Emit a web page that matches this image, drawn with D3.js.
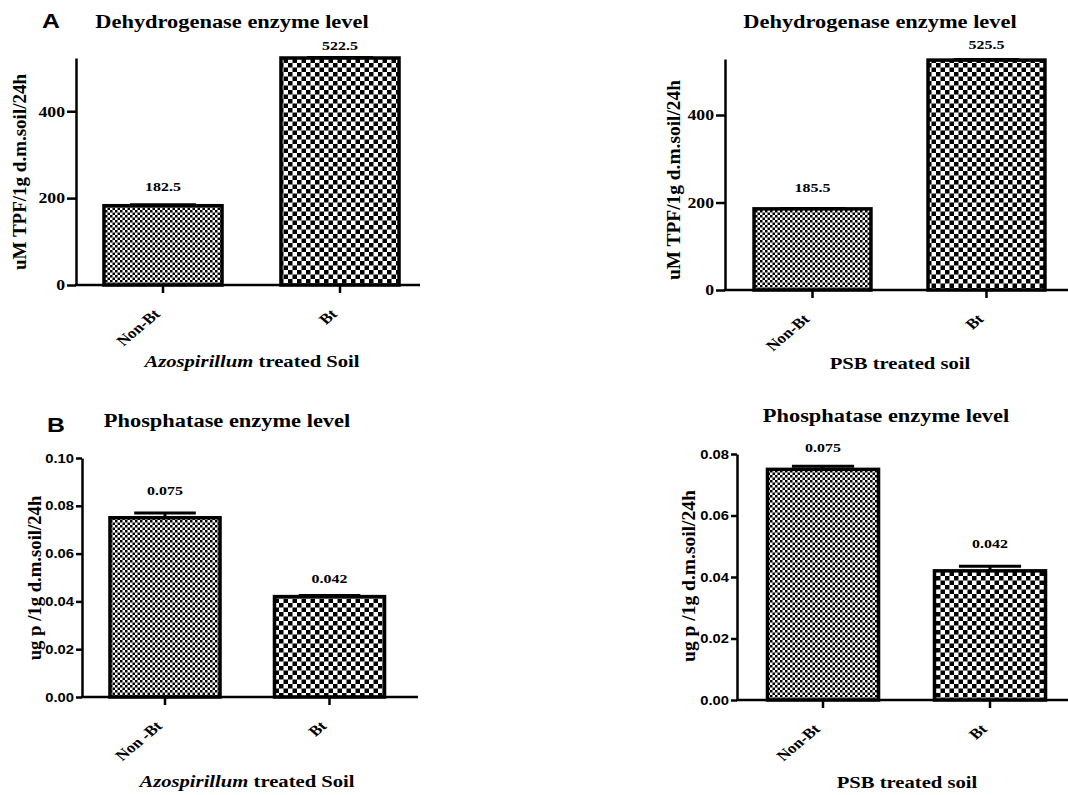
<!DOCTYPE html>
<html>
<head>
<meta charset="utf-8">
<script src="https://cdn.jsdelivr.net/npm/d3@7"></script>
<style>
  body { margin: 0; background: #fff; }
  svg { display: block; }
  .serif { font-family: "Liberation Serif", "Times New Roman", serif; font-weight: bold; }
  .sans { font-family: "Liberation Sans", Arial, sans-serif; font-weight: bold; }
</style>
</head>
<body>
<div id="chart"></div>
<script>
// Data.
const groupsA = ['Non-Bt', 'Bt'];
const groupsB = ['Non -Bt', 'Bt'];
const groupsBpsb = ['Non-Bt', 'Bt'];

const dehydAzo = [182.5, 522.5];
const dehydAzoErr = [2.5, 1];
const dehydPsb = [185.5, 525.5];
const dehydPsbErr = [1, 1.5];

const phosAzo = [0.075, 0.042];
const phosAzoErr = [0.002, 0.0005];
const phosPsb = [0.075, 0.042];
const phosPsbErr = [0.001, 0.0015];

const dehydTicks = [0, 200, 400];
const phosAzoTicks = [0, 0.02, 0.04, 0.06, 0.08, 0.10];
const phosPsbTicks = [0, 0.02, 0.04, 0.06, 0.08];

const dehydTitle = 'Dehydrogenase enzyme level';
const phosTitle = 'Phosphatase enzyme level';
const dehydYLabel = 'uM TPF/1g d.m.soil/24h';
const phosYLabel = 'ug p /1g d.m.soil/24h';

// The original figure is stretched sideways; text gets the same stretch.
const SX = 1.18;

const svg = d3.select('#chart')
  .append('svg')
  .attr('width', 1068)
  .attr('height', 795);

// Checker patterns: fine for Non-Bt, coarse for Bt.
const defs = svg.append('defs');
function checker(id, s) {
  const p = defs.append('pattern')
    .attr('id', id)
    .attr('patternUnits', 'userSpaceOnUse')
    .attr('width', 2 * s)
    .attr('height', 2 * s);
  p.append('rect').attr('width', 2 * s).attr('height', 2 * s).attr('fill', '#fff');
  p.append('rect').attr('width', s).attr('height', s).attr('fill', '#000');
  p.append('rect').attr('x', s).attr('y', s).attr('width', s).attr('height', s).attr('fill', '#000');
}
checker('fine', 2.5);
checker('coarse', 4.5);

// Panel layout.
const panels = [
  {
    letter: 'A', letterX: 42, letterY: 28,
    title: dehydTitle, titleX: 232, titleY: 28,
    groups: groupsA, values: dehydAzo, errs: dehydAzoErr, labels: ['182.5', '522.5'], labelGap: [14, 8],
    ticks: dehydTicks, tickFmt: d3.format('d'), tickClass: 'serif', tickSize: 15, tickLen: 9,
    yMax: 522.5, y0: 285, yTop: 58,
    axisX: 76, xEnd: 420, band: [74.5, 428.5], pad: 0.333,
    yLabel: dehydYLabel, yLabelX: 19, yLabelY: 172, yLabelSize: 19,
    xTitle: ['Azospirillum', ' treated Soil'], xTitleX: 252, xTitleY: 367
  },
  {
    title: dehydTitle, titleX: 880, titleY: 28,
    groups: groupsA, values: dehydPsb, errs: dehydPsbErr, labels: ['185.5', '525.5'], labelGap: [16, 10],
    ticks: dehydTicks, tickFmt: d3.format('d'), tickClass: 'serif', tickSize: 15, tickLen: 9,
    yMax: 528, y0: 290, yTop: 59,
    axisX: 725, xEnd: 1068, band: [725.5, 1073.5], pad: 0.328,
    yLabel: dehydYLabel, yLabelX: 673, yLabelY: 180, yLabelSize: 19.4,
    xTitle: [null, 'PSB treated soil'], xTitleX: 900, xTitleY: 369
  },
  {
    letter: 'B', letterX: 47, letterY: 432,
    title: phosTitle, titleX: 227, titleY: 427,
    groups: groupsB, values: phosAzo, errs: phosAzoErr, labels: ['0.075', '0.042'], labelGap: [18, 12],
    ticks: phosAzoTicks, tickFmt: d3.format('.2f'), tickClass: 'sans', tickSize: 12.5, tickLen: 6,
    yMax: 0.10, y0: 697, yTop: 458,
    axisX: 82, xEnd: 418, band: [82.75, 411.75], pad: 0.331,
    yLabel: phosYLabel, yLabelX: 34, yLabelY: 578, yLabelSize: 18.7,
    xTitle: ['Azospirillum', ' treated Soil'], xTitleX: 247, xTitleY: 787
  },
  {
    title: phosTitle, titleX: 886, titleY: 422,
    groups: groupsBpsb, values: phosPsb, errs: phosPsbErr, labels: ['0.075', '0.042'], labelGap: [14, 18],
    ticks: phosPsbTicks, tickFmt: d3.format('.2f'), tickClass: 'sans', tickSize: 12.5, tickLen: 6,
    yMax: 0.08, y0: 700, yTop: 454,
    axisX: 737, xEnd: 1068, band: [739.5, 1073.5], pad: 0.335,
    yLabel: phosYLabel, yLabelX: 688, yLabelY: 576, yLabelSize: 19.5,
    xTitle: [null, 'PSB treated soil'], xTitleX: 907, xTitleY: 788
  }
];

panels.forEach(drawPanel);

function stretched(x, y) {
  return `translate(${x},${y}) scale(${SX},1)`;
}

function drawPanel(p) {
  const g = svg.append('g');

  const xScale = d3.scaleBand()
    .domain(p.groups)
    .range(p.band)
    .paddingInner(p.pad)
    .paddingOuter(p.pad / 2);

  const yScale = d3.scaleLinear()
    .domain([0, p.yMax])
    .range([p.y0, p.yTop]);

  const rows = p.groups.map((name, i) => ({
    name: name, value: p.values[i], err: p.errs[i], label: p.labels[i], gap: p.labelGap[i],
    fill: i === 0 ? 'url(#fine)' : 'url(#coarse)'
  }));

  // Panel letter.
  if (p.letter) {
    g.append('text')
      .attr('class', 'sans')
      .attr('transform', stretched(p.letterX, p.letterY))
      .style('font-size', '21px')
      .text(p.letter);
  }

  // Title.
  g.append('text')
    .attr('class', 'serif')
    .attr('transform', stretched(p.titleX, p.titleY))
    .attr('text-anchor', 'middle')
    .style('font-size', '19px')
    .text(p.title);

  // Error bars (drawn first so bar outline sits on top).
  const eb = g.append('g');
  rows.forEach(d => {
    const cx = xScale(d.name) + xScale.bandwidth() / 2;
    const half = xScale.bandwidth() * 0.28;
    eb.append('line')
      .attr('x1', cx).attr('x2', cx)
      .attr('y1', yScale(d.value)).attr('y2', yScale(d.value + d.err))
      .attr('stroke', '#000').attr('stroke-width', 3);
    eb.append('line')
      .attr('x1', cx - half).attr('x2', cx + half)
      .attr('y1', yScale(d.value + d.err)).attr('y2', yScale(d.value + d.err))
      .attr('stroke', '#000').attr('stroke-width', 3);
  });

  // Bars.
  g.selectAll('.bar')
    .data(rows)
    .enter()
    .append('rect')
    .attr('class', 'bar')
    .attr('x', d => xScale(d.name))
    .attr('y', d => yScale(d.value))
    .attr('width', xScale.bandwidth())
    .attr('height', d => yScale(0) - yScale(d.value))
    .attr('fill', d => d.fill)
    .attr('stroke', '#000')
    .attr('stroke-width', 3.5);

  // Value labels.
  g.selectAll('.val')
    .data(rows)
    .enter()
    .append('text')
    .attr('class', 'serif')
    .attr('transform', d => stretched(xScale(d.name) + xScale.bandwidth() / 2, yScale(d.value + d.err) - d.gap))
    .attr('text-anchor', 'middle')
    .style('font-size', '13.5px')
    .text(d => d.label);

  // Y axis.
  const yAxis = d3.axisLeft(yScale)
    .tickValues(p.ticks)
    .tickFormat(p.tickFmt)
    .tickSizeInner(p.tickLen)
    .tickSizeOuter(0);

  const yAxisDraw = g.append('g')
    .attr('transform', `translate(${p.axisX},0)`)
    .call(yAxis);
  yAxisDraw.select('.domain').attr('stroke-width', 2.5);
  yAxisDraw.selectAll('.tick line').attr('stroke-width', 2.5);
  yAxisDraw.selectAll('.tick text')
    .attr('class', p.tickClass)
    .style('font-size', p.tickSize + 'px')
    .attr('fill', '#000')
    .attr('x', -(p.tickLen + 2) / SX)
    .attr('transform', `scale(${SX},1)`);

  // X axis.
  g.append('line')
    .attr('x1', p.axisX - 1).attr('x2', p.xEnd)
    .attr('y1', p.y0).attr('y2', p.y0)
    .attr('stroke', '#000').attr('stroke-width', 2.5);

  const xAxis = d3.axisBottom(xScale).tickSizeInner(8).tickSizeOuter(0);
  const xAxisDraw = g.append('g')
    .attr('transform', `translate(0,${p.y0})`)
    .call(xAxis);
  xAxisDraw.select('.domain').remove();
  xAxisDraw.selectAll('.tick line').attr('stroke-width', 2.5);
  xAxisDraw.selectAll('.tick text')
    .attr('class', 'serif')
    .style('font-size', '14.5px')
    .attr('fill', '#000')
    .attr('dy', null)
    .attr('y', null)
    .attr('text-anchor', 'end')
    .attr('transform', `translate(-2,30) scale(${SX},1) rotate(-45)`);

  // Y axis label.
  g.append('text')
    .attr('class', 'serif')
    .attr('transform', `translate(${p.yLabelX},${p.yLabelY}) rotate(-90)`)
    .attr('text-anchor', 'middle')
    .attr('dominant-baseline', 'central')
    .style('font-size', p.yLabelSize + 'px')
    .text(p.yLabel);

  // X axis title.
  const xt = g.append('text')
    .attr('class', 'serif')
    .attr('transform', stretched(p.xTitleX, p.xTitleY))
    .attr('text-anchor', 'middle')
    .style('font-size', '17.5px');
  if (p.xTitle[0]) {
    xt.append('tspan').style('font-style', 'italic').text(p.xTitle[0]);
  }
  xt.append('tspan').text(p.xTitle[1]);
}
</script>
</body>
</html>
